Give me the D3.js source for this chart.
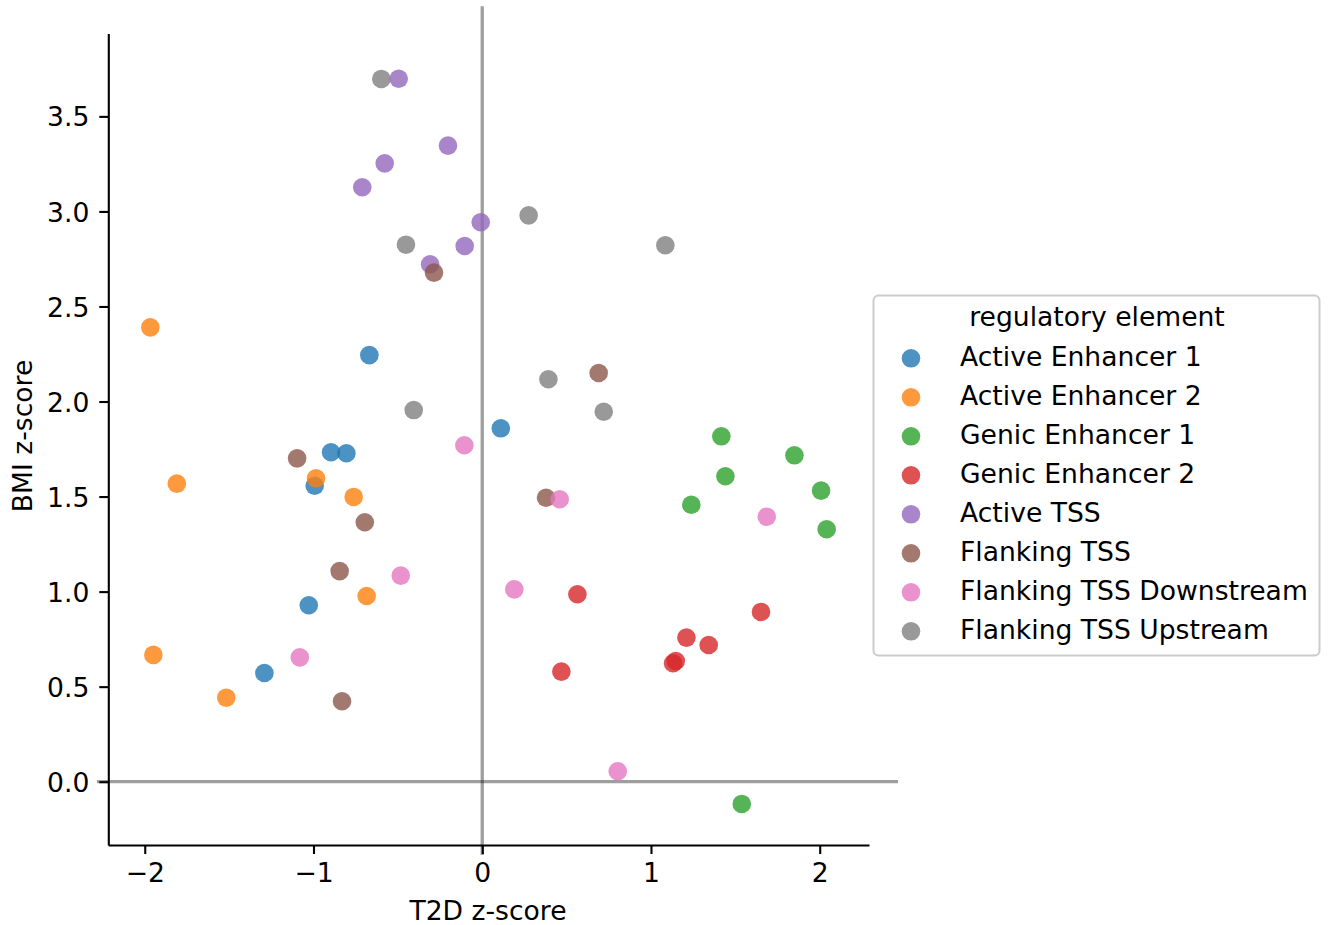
<!DOCTYPE html>
<html>
<head>
<meta charset="utf-8">
<script src="https://cdn.jsdelivr.net/npm/d3@7"></script>
<style>
  html, body { margin: 0; padding: 0; background: #fff; }
  svg text { font-family: "DejaVu Sans", sans-serif; }
</style>
</head>
<body>
<svg id="chart" width="1328" height="925"></svg>
<script>
// Regulatory element groups (legend order)
const categories = [
  "Active Enhancer 1", "Active Enhancer 2", "Genic Enhancer 1", "Genic Enhancer 2",
  "Active TSS", "Flanking TSS", "Flanking TSS Downstream", "Flanking TSS Upstream"
];
const palette = ["#1f77b4", "#ff7f0e", "#2ca02c", "#d62728", "#9467bd", "#8c564b", "#e377c2", "#7f7f7f"];

// T2D z-score (x) and BMI z-score (y) per group
const activeEnhancer1 = [[-0.669, 2.244], [0.110, 1.859], [-0.896, 1.733], [-0.805, 1.728], [-0.993, 1.557], [-1.028, 0.928], [-1.291, 0.572]];
const activeEnhancer2 = [[-1.967, 2.390], [-1.810, 1.568], [-0.985, 1.596], [-0.762, 1.498], [-0.685, 0.977], [-1.949, 0.667], [-1.517, 0.442]];
const genicEnhancer1 = [[1.417, 1.817], [1.850, 1.717], [1.441, 1.607], [2.008, 1.531], [1.239, 1.457], [2.041, 1.328], [1.538, -0.117]];
const genicEnhancer2 = [[0.564, 0.986], [1.652, 0.893], [1.210, 0.758], [1.342, 0.719], [1.147, 0.635], [1.131, 0.623], [0.469, 0.579]];
const activeTSS = [[-0.495, 3.698], [-0.203, 3.346], [-0.578, 3.253], [-0.711, 3.127], [-0.009, 2.943], [-0.104, 2.818], [-0.309, 2.722]];
const flankingTSS = [[-0.286, 2.678], [0.690, 2.150], [-1.097, 1.701], [0.378, 1.494], [-0.696, 1.365], [-0.845, 1.108], [-0.831, 0.423]];
const flankingTSSDownstream = [[-0.106, 1.770], [0.459, 1.486], [1.686, 1.394], [-0.483, 1.084], [0.190, 1.012], [-1.081, 0.654], [0.803, 0.055]];
const flankingTSSUpstream = [[-0.598, 3.697], [0.275, 2.979], [-0.452, 2.825], [1.085, 2.822], [0.392, 2.117], [-0.406, 1.955], [0.720, 1.946]];

const seriesValues = [activeEnhancer1, activeEnhancer2, genicEnhancer1, genicEnhancer2,
                      activeTSS, flankingTSS, flankingTSSDownstream, flankingTSSUpstream];

const xTicks = [-2, -1, 0, 1, 2];
const yTicks = [0.0, 0.5, 1.0, 1.5, 2.0, 2.5, 3.0, 3.5];
const xLabel = "T2D z-score";
const yLabel = "BMI z-score";
const legendTitle = "regulatory element";

// Reference lines at zero (extend slightly past the axes)
const hLineX = [-2.283, 2.464];
const vLineY = [-0.386, 4.08];

const FONT = 26.6;
const svg = d3.select("#chart");

const x = d3.scaleLinear().domain([-2.216, 2.292]).range([108.3, 869]);
const y = d3.scaleLinear().domain([-0.333, 3.936]).range([845, 33.5]);

// Zero lines
const zeroG = svg.append("g").attr("stroke", "#000").attr("stroke-opacity", 0.38).attr("stroke-width", 3.3);
zeroG.append("line")
  .attr("x1", x(hLineX[0])).attr("x2", x(hLineX[1]))
  .attr("y1", y(0)).attr("y2", y(0));
zeroG.append("line")
  .attr("x1", x(0)).attr("x2", x(0))
  .attr("y1", y(vLineY[0])).attr("y2", y(vLineY[1]));

// Points
const points = [];
seriesValues.forEach((vals, i) => vals.forEach(v => points.push({ x: v[0], y: v[1], c: i })));
svg.append("g").selectAll("circle").data(points).join("circle")
  .attr("cx", d => x(d.x))
  .attr("cy", d => y(d.y))
  .attr("r", 9.3)
  .attr("fill", d => palette[d.c])
  .attr("fill-opacity", 0.8);

// Axes
const fmtX = d3.format("d");
const fmtY = d3.format(".1f");
const xAxis = svg.append("g").attr("transform", `translate(0,845)`)
  .call(d3.axisBottom(x).tickValues(xTicks).tickFormat(fmtX).tickSize(9).tickSizeOuter(0).tickPadding(10));
const yAxis = svg.append("g").attr("transform", `translate(108.3,0)`)
  .call(d3.axisLeft(y).tickValues(yTicks).tickFormat(fmtY).tickSize(9).tickSizeOuter(0).tickPadding(10));

[xAxis, yAxis].forEach(a => {
  a.select(".domain").attr("stroke", "#000").attr("stroke-width", 2.1);
  a.selectAll(".tick line").attr("stroke", "#000").attr("stroke-width", 2.1);
  a.selectAll(".tick text").attr("font-size", FONT).attr("fill", "#000")
    .attr("font-family", "DejaVu Sans, sans-serif");
});
yAxis.selectAll(".tick text").attr("dy", "0.36em");
xAxis.selectAll(".tick text").attr("dy", "0.69em");

// Axis labels
svg.append("text")
  .attr("x", 488).attr("y", 920)
  .attr("text-anchor", "middle").attr("font-size", FONT).attr("fill", "#000")
  .text(xLabel);
svg.append("text")
  .attr("transform", "translate(31.5,436) rotate(-90)")
  .attr("text-anchor", "middle").attr("font-size", FONT).attr("fill", "#000")
  .text(yLabel);

// Legend
const lg = svg.append("g");
lg.append("rect")
  .attr("x", 873.5).attr("y", 295.5).attr("width", 446).attr("height", 360)
  .attr("rx", 5).attr("ry", 5)
  .attr("fill", "#fff").attr("fill-opacity", 0.8)
  .attr("stroke", "#cccccc").attr("stroke-width", 2);
lg.append("text")
  .attr("x", 1097).attr("y", 326)
  .attr("text-anchor", "middle").attr("font-size", FONT).attr("fill", "#000")
  .text(legendTitle);
const rows = lg.selectAll("g.row").data(categories).join("g")
  .attr("class", "row")
  .attr("transform", (d, i) => `translate(0,${358.3 + i * 39})`);
rows.append("circle")
  .attr("cx", 911).attr("cy", 0).attr("r", 9.3)
  .attr("fill", (d, i) => palette[i]).attr("fill-opacity", 0.8);
rows.append("text")
  .attr("x", 960).attr("y", 8)
  .attr("font-size", FONT).attr("fill", "#000")
  .text(d => d);
</script>
</body>
</html>
